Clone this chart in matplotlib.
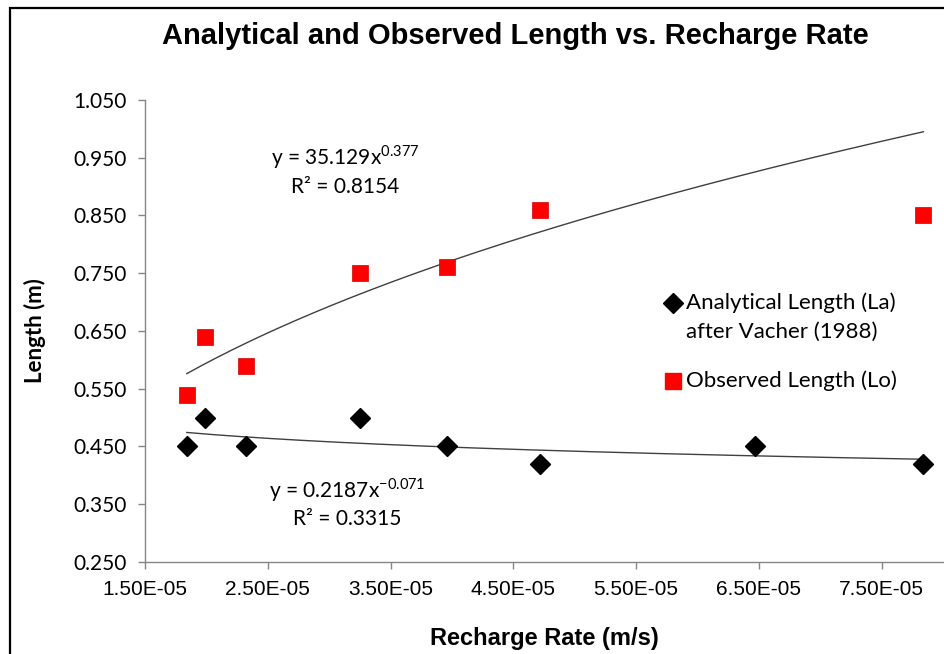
import numpy as np
import matplotlib.pyplot as plt
from matplotlib.patches import Rectangle

# recharge rate (m/s) and measured lengths (m)
recharge = [1.84e-05, 1.99e-05, 2.32e-05, 3.25e-05, 3.96e-05, 4.72e-05, 6.47e-05, 7.84e-05]
analytical = [0.45, 0.50, 0.45, 0.50, 0.45, 0.42, 0.45, 0.42]

recharge_obs = [1.84e-05, 1.99e-05, 2.32e-05, 3.25e-05, 3.96e-05, 4.72e-05, 7.84e-05]
observed = [0.54, 0.64, 0.59, 0.75, 0.76, 0.86, 0.85]

# power-law trendlines y = a * x^b
fit_obs = (35.129, 0.377, 0.8154)
fit_ana = (0.2187, -0.071, 0.3315)

body_font = ['Lato', 'DejaVu Sans']
head_font = ['Liberation Sans Narrow', 'Liberation Sans', 'DejaVu Sans']

fig = plt.figure(figsize=(9.44, 6.54), dpi=100)
ax = fig.add_axes([0.1536, 0.1407, 0.8454, 0.7064])

# trendlines over the range of the data
xs = np.linspace(min(recharge_obs), max(recharge_obs), 200)
ax.plot(xs, fit_obs[0] * xs ** fit_obs[1], color='#404040', lw=1.0, zorder=1)
xs = np.linspace(min(recharge), max(recharge), 200)
ax.plot(xs, fit_ana[0] * xs ** fit_ana[1], color='#404040', lw=1.0, zorder=1)

ax.plot(recharge, analytical, 'D', color='black', ms=10, ls='none', zorder=3)
ax.plot(recharge_obs, observed, 's', color='#ff0000', ms=12, mec='#d00000', mew=0.5,
        ls='none', zorder=3)

ax.set_xlim(1.5e-05, 8.0e-05)
ax.set_ylim(0.25, 1.05)
ax.set_xticks(np.arange(1.5e-05, 7.6e-05, 1e-05))
ax.set_yticks(np.arange(0.25, 1.06, 0.1))
ax.set_xticklabels([f'{v:.2E}' for v in ax.get_xticks()], family=head_font, fontsize=15)
ax.set_yticklabels([f'{v:.3f}' for v in ax.get_yticks()], family=body_font, fontsize=15)
ax.tick_params(direction='out', length=5, width=1, color='#868686', pad=8)

for side in ['top', 'right']:
    ax.spines[side].set_visible(False)
for side in ['left', 'bottom']:
    ax.spines[side].set_color('#868686')
    ax.spines[side].set_linewidth(1)

ax.set_ylabel('Length (m)', family=body_font, fontsize=16, fontweight='bold', labelpad=20)
ax.set_xlabel('Recharge Rate (m/s)', family=head_font, fontsize=17, fontweight='bold', labelpad=20)
fig.text(0.546, 0.945, 'Analytical and Observed Length vs. Recharge Rate',
         family=head_font, fontsize=21, fontweight='bold', ha='center', va='center')

# fitted equations
ax.text(3.13e-05, 0.951, r'y = 35.129x$^{\mathregular{0.377}}$', family=body_font,
        fontsize=15, ha='center', va='center')
ax.text(3.13e-05, 0.899, f'R² = {fit_obs[2]:.4f}', family=body_font,
        fontsize=15, ha='center', va='center')
ax.text(3.15e-05, 0.375, r'y = 0.2187x$^{\mathregular{-0.071}}$', family=body_font,
        fontsize=15, ha='center', va='center')
ax.text(3.15e-05, 0.325, f'R² = {fit_ana[2]:.4f}', family=body_font,
        fontsize=15, ha='center', va='center')

# legend, marker beside the first line of each entry
legend_items = [
    ('D', 'black', 10, ['Analytical Length (La)', 'after Vacher (1988)'], 0.561),
    ('s', '#ff0000', 12, ['Observed Length (Lo)'], 0.392),
]
for marker, color, size, lines, ypos in legend_items:
    ax.plot([0.662], [ypos], marker, color=color, ms=size, transform=ax.transAxes,
            clip_on=False)
    for i, line in enumerate(lines):
        ax.text(0.678, ypos - 0.063 * i, line, transform=ax.transAxes,
                family=body_font, fontsize=16, ha='left', va='center')

# outer chart border, clipped by the image edge
fig.patches.append(Rectangle((0.011, -0.05), 1.2, 1.038, transform=fig.transFigure,
                             fill=False, edgecolor='black', lw=1.6))

fig.savefig('out.png', dpi=100)
